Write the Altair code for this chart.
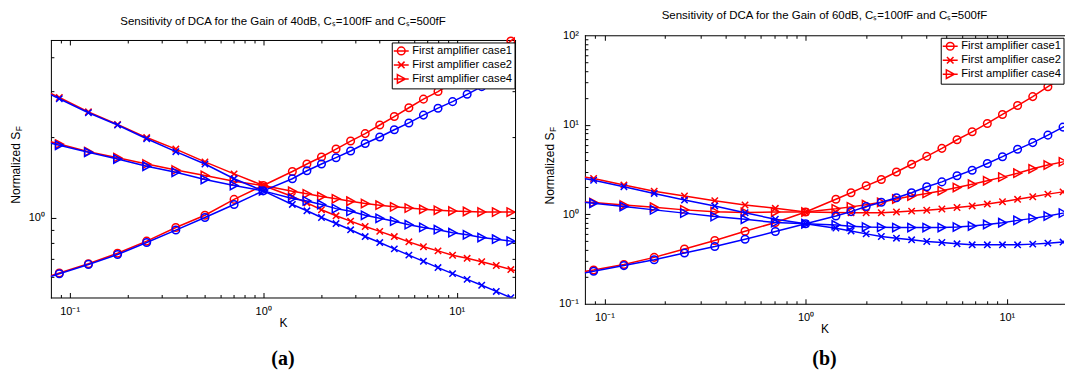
import altair as alt
import pandas as pd

FONT = "Liberation Sans"
RED = "#ff0000"
BLUE = "#0000ff"

CASES = ["First amplifier case1", "First amplifier case2", "First amplifier case4"]

K = [0.0625, 0.0884, 0.125, 0.1768, 0.25, 0.3536, 0.5, 0.7071, 1.0, 1.4142, 1.6818, 2.0,
     2.3784, 2.8284, 3.3636, 4.0, 4.7568, 5.6569, 6.7272, 8.0, 9.5137, 11.3137, 13.4543,
     16.0, 19.0273, 22.6274]

# panel (a): 40 dB
a_red_case1 = [0.570, 0.618, 0.670, 0.734, 0.815, 0.917, 1.02, 1.17, 1.32, 1.49, 1.59, 1.69,
               1.81, 1.94, 2.07, 2.23, 2.40, 2.59, 2.79, 2.98, 3.22, 3.51, 3.84, 4.21, 4.62, 5.09]
a_red_case2 = [3.20, 2.83, 2.50, 2.24, 2.00, 1.81, 1.62, 1.46, 1.32, 1.20, 1.135, 1.07,
               1.015, 0.969, 0.925, 0.887, 0.848, 0.81, 0.776, 0.749, 0.721, 0.702, 0.682,
               0.66, 0.637, 0.62]
a_red_case4 = [2.02, 1.89, 1.77, 1.68, 1.59, 1.51, 1.44, 1.37, 1.32, 1.255, 1.228, 1.20,
               1.176, 1.152, 1.129, 1.113, 1.097, 1.085, 1.074, 1.065, 1.058, 1.054, 1.049,
               1.048, 1.048, 1.048]
a_blue_case1 = [0.566, 0.614, 0.666, 0.726, 0.805, 0.897, 1.0, 1.12, 1.26, 1.40, 1.50, 1.59,
                1.68, 1.78, 1.90, 2.01, 2.14, 2.27, 2.43, 2.58, 2.73, 2.91, 3.11, 3.32, 3.56, 3.82]
a_blue_case2 = [3.16, 2.80, 2.48, 2.23, 1.98, 1.77, 1.59, 1.40, 1.26, 1.12, 1.06, 1.0,
                0.949, 0.899, 0.848, 0.805, 0.762, 0.722, 0.684, 0.648, 0.615, 0.585, 0.556,
                0.527, 0.499, 0.475]
a_blue_case4 = [1.99, 1.87, 1.76, 1.66, 1.56, 1.48, 1.39, 1.32, 1.26, 1.18, 1.155, 1.12,
                1.08, 1.055, 1.02, 0.993, 0.969, 0.94, 0.918, 0.90, 0.877, 0.861, 0.841,
                0.829, 0.815, 0.80]

# panel (b): 60 dB
b_red_case1 = [0.21, 0.238, 0.275, 0.33, 0.41, 0.51, 0.645, 0.81, 1.06, 1.47, 1.74, 2.08,
               2.45, 2.97, 3.62, 4.44, 5.45, 6.8, 8.35, 10.35, 13.05, 16.4, 20.65, 26.65, 34.0, 43.0]
b_red_case2 = [2.85, 2.51, 2.12, 1.81, 1.60, 1.42, 1.27, 1.166, 1.06, 1.05, 1.04, 1.04,
               1.04, 1.06, 1.085, 1.11, 1.145, 1.19, 1.24, 1.30, 1.38, 1.47, 1.57, 1.68, 1.78, 1.9]
b_red_case4 = [1.43, 1.35, 1.27, 1.20, 1.12, 1.07, 1.05, 1.06, 1.06, 1.15, 1.21, 1.28,
               1.36, 1.48, 1.6, 1.71, 1.83, 1.99, 2.17, 2.37, 2.6, 2.88, 3.22, 3.55, 3.85, 4.2]
b_blue_case1 = [0.20, 0.231, 0.267, 0.311, 0.369, 0.437, 0.527, 0.641, 0.785, 0.957, 1.07, 1.22,
                1.36, 1.53, 1.74, 2.03, 2.30, 2.69, 3.11, 3.69, 4.40, 5.32, 6.32, 7.66, 9.42, 11.5]
b_blue_case2 = [2.75, 2.40, 2.03, 1.71, 1.44, 1.24, 1.04, 0.88, 0.785, 0.70, 0.652, 0.604,
                0.564, 0.541, 0.518, 0.496, 0.484, 0.468, 0.456, 0.456, 0.456, 0.456, 0.464,
                0.476, 0.489, 0.50]
b_blue_case4 = [1.44, 1.33, 1.22, 1.12, 1.03, 0.942, 0.88, 0.807, 0.785, 0.76, 0.735, 0.72,
                0.715, 0.71, 0.71, 0.71, 0.712, 0.72, 0.74, 0.77, 0.805, 0.855, 0.90, 0.955, 1.03, 1.1]

X_TICKS = [0.09, 0.1, 0.2, 0.3, 0.4, 0.5, 0.6, 0.7, 0.8, 0.9, 1, 2, 3, 4, 5, 6, 7, 8, 9, 10]
X_LABELS = [0.1, 1, 10]
A_Y_TICKS = [0.6, 0.7, 0.8, 0.9, 1, 2, 3, 4]
A_Y_LABELS = [1]
B_Y_TICKS = [0.2, 0.3, 0.4, 0.5, 0.6, 0.7, 0.8, 0.9, 1, 2, 3, 4, 5, 6, 7, 8, 9,
             10, 20, 30, 40, 50, 60, 70, 80, 90]
B_Y_LABELS = [0.1, 1, 10, 100]

# marker shapes (unit square paths)
PLOT_PATHS = [
    "M0.95,0A0.95,0.95,0,1,1,-0.95,0A0.95,0.95,0,1,1,0.95,0Z",
    "M-0.8,-0.8L0.8,0.8M-0.8,0.8L0.8,-0.8",
    "M-0.95,-1.05L1.0,0L-0.95,1.05Z",
]
LEG_PATHS = [
    "M-1.36,0L1.36,0M0.7,0A0.7,0.7,0,1,1,-0.7,0A0.7,0.7,0,1,1,0.7,0Z",
    "M-1.36,0L1.36,0M-0.6,-0.6L0.6,0.6M-0.6,0.6L0.6,-0.6",
    "M-1.36,0L1.36,0M-0.7,-0.78L0.75,0L-0.7,0.78Z",
]

LABEL_EXPR = ("datum.value < 0.5 ? '10\u207b\u00b9' : datum.value < 5 ? '10\u2070' : "
              "datum.value < 50 ? '10\u00b9' : '10\u00b2'")
TICK_SIZE = {"condition": {"test": "abs(log(datum.value)/LN10 - round(log(datum.value)/LN10)) < 0.001",
                           "value": 5}, "value": 3}


def long_df(series):
    rows = []
    for case, vals in zip(CASES, series):
        for k, v in zip(K, vals):
            rows.append({"K": k, "S": v, "case": case})
    return pd.DataFrame(rows)


def tick_axis(orient, offset, values, domain):
    return alt.Axis(orient=orient, offset=offset, values=values, labels=False, ticks=True,
                    tickSize=TICK_SIZE, tickColor="black", tickWidth=1, domain=domain,
                    domainColor="black", domainWidth=1, domainCap="square", grid=False,
                    title=None, minExtent=0)


def make_panel(red_df, blue_df, W, HV, y_top, xdom, ydom, ylab_vals, ytick_vals, title,
               title_y, letter, letter_y, ytitle_c, left_ext, top_ext, right_axis):
    # HV: view height; plot occupies y in [y_top, HV]
    xsc = alt.Scale(type="log", domain=xdom, nice=False)
    ysc = alt.Scale(type="log", domain=ydom, nice=False, range=[HV, y_top])

    def X(axis):
        return alt.X("K:Q", scale=xsc, axis=axis)

    def Y(axis):
        return alt.Y("S:Q", scale=ysc, axis=axis)

    lab_x = alt.Axis(orient="bottom", values=X_LABELS, labelExpr=LABEL_EXPR, ticks=False,
                     domain=True, domainColor="black", domainWidth=1, domainCap="square",
                     grid=False, title="K", titleFont=FONT, titleFontSize=12,
                     titleFontWeight="normal", titleColor="black", titlePadding=1,
                     labelFont=FONT, labelFontSize=11, labelColor="black", labelPadding=8,
                     labelFlush=False, labelOverlap=False)
    lab_y = alt.Axis(orient="left", values=ylab_vals, labelExpr=LABEL_EXPR, ticks=False,
                     domain=True, domainColor="black", domainWidth=1, domainCap="square",
                     grid=False, title=None, labelFont=FONT, labelFontSize=11,
                     labelColor="black", labelPadding=6.5, labelFlush=False,
                     labelOverlap=False, minExtent=0)

    shp = alt.Shape("case:N", scale=alt.Scale(domain=CASES, range=PLOT_PATHS), legend=None)

    red_lines = alt.Chart(red_df).mark_line(color=RED, strokeWidth=1.5, clip=True).encode(
        x=X(lab_x), y=Y(lab_y), detail="case:N")
    red_pts = alt.Chart(red_df).mark_point(color=RED, filled=False, strokeWidth=1.5, size=64,
                                           opacity=1, clip=True).encode(
        x=X(tick_axis("top", -HV, X_TICKS, False)),
        y=Y(tick_axis("right", -W, ytick_vals, False)), shape=shp)
    blue_lines = alt.Chart(blue_df).mark_line(color=BLUE, strokeWidth=1.5, clip=True).encode(
        x=X(tick_axis("bottom", -(HV - y_top), X_TICKS, True)),
        y=Y(tick_axis("left", -W, ytick_vals, True) if right_axis else None),
        detail="case:N")
    blue_pts = alt.Chart(blue_df).mark_point(color=BLUE, filled=False, strokeWidth=1.5, size=64,
                                             opacity=1, clip=True).encode(
        x=X(None), y=Y(None), shape=shp)
    legend_layer = alt.Chart(red_df).mark_point(opacity=0, filled=False, clip=True).encode(
        x=X(None), y=Y(None),
        shape=alt.Shape("case:N", scale=alt.Scale(domain=CASES, range=LEG_PATHS),
                        legend=alt.Legend(title=None, orient="none", legendX=W - 123.5,
                                          legendY=y_top + 2.5, padding=2,
                                          fillColor="white", strokeColor="black",
                                          symbolSize=121, symbolStrokeWidth=1.5,
                                          symbolStrokeColor=RED, symbolFillColor="transparent",
                                          symbolOpacity=1, symbolOffset=1, labelOffset=4.5,
                                          labelFont=FONT, labelFontSize=11.2, labelColor="black",
                                          rowPadding=0, labelLimit=300)))

    one = pd.DataFrame({"t": [""]})

    def txt(text, x, y, **kw):
        return alt.Chart(one).mark_text(text=text, **kw).encode(x=alt.value(x), y=alt.value(y))

    t_title = txt(title, W / 2, title_y, font=FONT, fontSize=11.5, color="black",
                  align="center", baseline="middle")
    jy = ytitle_c - 33.5
    t_y1 = txt("Normalized S", -35, jy, font=FONT, fontSize=12, color="black", angle=270,
               align="right", baseline="middle")
    t_y2 = txt("F", -31.5, jy - 0.5, font=FONT, fontSize=8.5, color="black", angle=270,
               align="left", baseline="middle")
    t_letter = txt(letter, W / 2, letter_y, font="Liberation Serif", fontSize=20,
                   fontWeight="bold", color="black", align="center", baseline="middle")
    bound = alt.Chart(one).mark_rule(opacity=0).encode(
        x=alt.value(-left_ext), x2=alt.value(-left_ext + 1),
        y=alt.value(-top_ext), y2=alt.value(-top_ext + 1))

    return alt.layer(red_lines, red_pts, blue_lines, blue_pts, legend_layer,
                     t_title, t_y1, t_y2, t_letter, bound).resolve_scale(
        shape="independent").resolve_axis(x="independent", y="independent").properties(
        width=W, height=HV)


a_red = long_df([a_red_case1, a_red_case2, a_red_case4])
a_blue = long_df([a_blue_case1, a_blue_case2, a_blue_case4])
b_red = long_df([b_red_case1, b_red_case2, b_red_case4])
b_blue = long_df([b_blue_case1, b_blue_case2, b_blue_case4])

# both views start at page y = 34.3; panel (a) plot starts 4.7 px lower
panel_a = make_panel(a_red, a_blue, 465, 262.7, 4.7, [0.08, 20], [0.5, 4.66], A_Y_LABELS,
                     A_Y_TICKS,
                     "Sensitivity of DCA for the Gain of 40dB, C\u209b=100fF and C\u209b=500fF",
                     -13, "(a)", 324.7, 130.2, 50.5, 34.3, True)
panel_b = make_panel(b_red, b_blue, 480, 269, 0, [0.08, 19.24], [0.1, 100], B_Y_LABELS,
                     B_Y_TICKS,
                     "Sensitivity of DCA for the Gain of 60dB, C\u209b=100fF and C\u209b=500fF",
                     -18.9, "(b)", 324.5, 131, 68, 34.3, False)

chart = alt.hconcat(panel_a, panel_b, spacing=0).resolve_scale(
    x="independent", y="independent", shape="independent").resolve_legend(
    shape="independent").properties(
    padding={"left": 0, "top": 0, "right": 0, "bottom": 0}, background="white").configure_view(
    stroke="transparent")

chart.save("out.html", embed_options={"renderer": "svg", "actions": False})
